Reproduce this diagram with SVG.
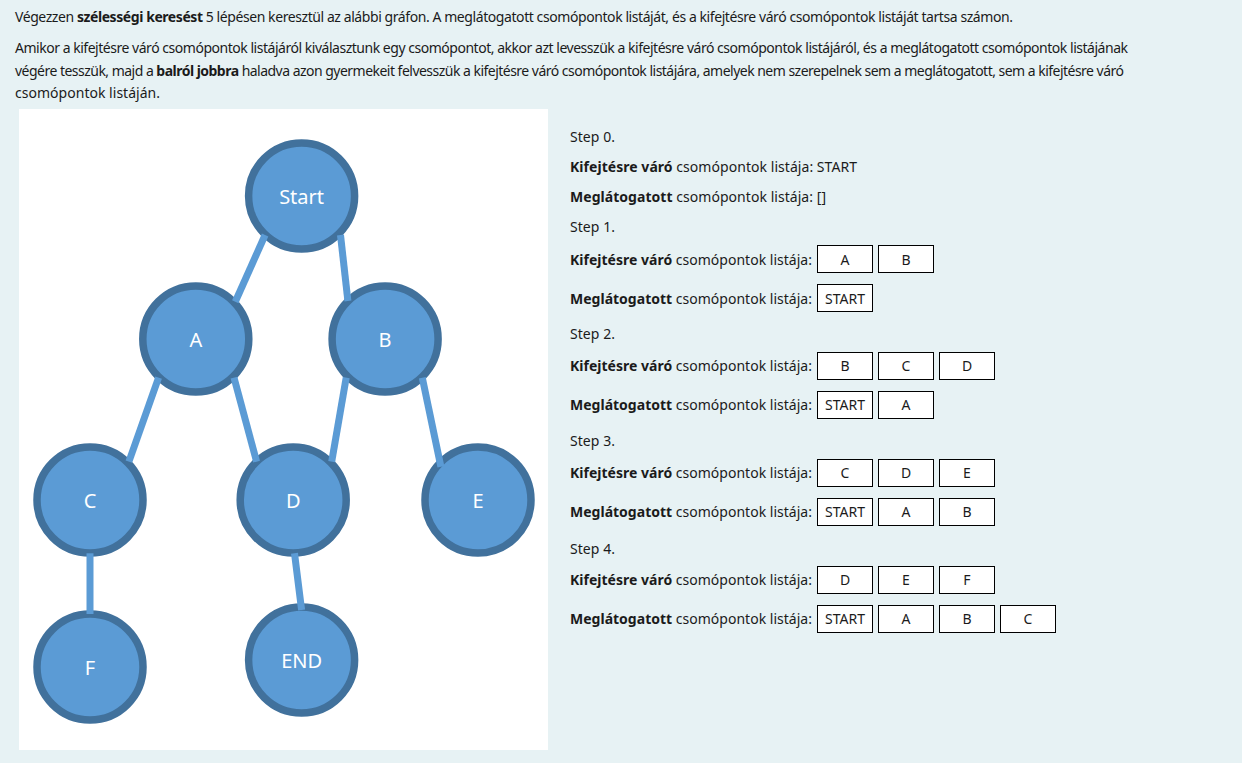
<svg xmlns="http://www.w3.org/2000/svg" width="1242" height="763" viewBox="0 0 1242 763">
<style>
  .t { font-family: "Noto Sans", "Open Sans", sans-serif; font-size: 14px; fill: #1b1b1b; }
  .b { font-weight: bold; }
  .box { fill: #ffffff; stroke: #000000; stroke-width: 1; }
  .bt { font-family: "Noto Sans", "Open Sans", sans-serif; font-size: 14px; fill: #1b1b1b; text-anchor: middle; }
  .node circle { fill: #5b9bd5; stroke: #41719c; stroke-width: 7.5; }
  .node text { font-family: "Noto Sans", "Open Sans", sans-serif; font-size: 20px; fill: #ffffff; text-anchor: middle; }
  .edge { stroke: #5b9bd5; stroke-width: 7; fill: none; }
</style>
<rect x="0" y="0" width="1242" height="763" fill="#e7f2f4"/>

<g id="intro">
  <text class="t" x="15" y="22" textLength="998">Végezzen <tspan class="b">szélességi keresést</tspan> 5 lépésen keresztül az alábbi gráfon. A meglátogatott csomópontok listáját, és a kifejtésre váró csomópontok listáját tartsa számon.</text>
  <text class="t" x="15" y="53" textLength="1113">Amikor a kifejtésre váró csomópontok listájáról kiválasztunk egy csomópontot, akkor azt levesszük a kifejtésre váró csomópontok listájáról, és a meglátogatott csomópontok listájának</text>
  <text class="t" x="15" y="76" textLength="1109">végére tesszük, majd a <tspan class="b">balról jobbra</tspan> haladva azon gyermekeit felvesszük a kifejtésre váró csomópontok listájára, amelyek nem szerepelnek sem a meglátogatott, sem a kifejtésre váró</text>
  <text class="t" x="15" y="98" textLength="145">csomópontok listáján.</text>
</g>

<rect id="panel" x="19" y="109" width="529" height="641" fill="#ffffff"/>

<g id="n-start" class="node"><circle cx="301.6" cy="196" r="53"/><text x="301.6" y="203.5">Start</text></g>
<g id="n-a" class="node"><circle cx="195.8" cy="339" r="53"/><text x="195.8" y="346.5">A</text></g>
<g id="n-b" class="node"><circle cx="385.1" cy="339" r="53"/><text x="385.1" y="346.5">B</text></g>
<g id="n-c" class="node"><circle cx="90" cy="500" r="53"/><text x="90" y="507.5">C</text></g>
<g id="n-d" class="node"><circle cx="293.2" cy="500" r="53"/><text x="293.2" y="507.5">D</text></g>
<g id="n-e" class="node"><circle cx="478" cy="500" r="53"/><text x="478" y="507.5">E</text></g>
<g id="n-f" class="node"><circle cx="90" cy="667" r="53"/><text x="90" y="674.5">F</text></g>
<g id="n-end" class="node"><circle cx="301.6" cy="660" r="53"/><text x="301.6" y="667.5">END</text></g>

<g id="connectors">
  <line class="edge" x1="265.1" y1="235" x2="235.3" y2="301.7"/>
  <line class="edge" x1="340.5" y1="235" x2="347.9" y2="301"/>
  <line class="edge" x1="158.6" y1="377.7" x2="128.9" y2="461.7"/>
  <line class="edge" x1="234" y1="377.7" x2="256.6" y2="461.7"/>
  <line class="edge" x1="346.2" y1="377.7" x2="331.7" y2="461.7"/>
  <line class="edge" x1="422.3" y1="377.7" x2="440.9" y2="466.7"/>
  <line class="edge" x1="90" y1="553.3" x2="90" y2="614"/>
  <line class="edge" x1="294.5" y1="553.3" x2="301.6" y2="610"/>
</g>

<g id="steps">
  <text class="t" x="570" y="142" textLength="45">Step 0.</text>
  <text class="t" x="570" y="172" textLength="287"><tspan class="b">Kifejtésre váró</tspan> csomópontok listája: START</text>
  <text class="t" x="570" y="202" textLength="256"><tspan class="b">Meglátogatott</tspan> csomópontok listája: []</text>

  <text class="t" x="570" y="232" textLength="45">Step 1.</text>
  <text class="t" x="570" y="265" textLength="242"><tspan class="b">Kifejtésre váró</tspan> csomópontok listája:</text>
  <rect class="box" x="817.5" y="245.5" width="55" height="27"/><text class="bt" x="845" y="265">A</text>
  <rect class="box" x="878.5" y="245.5" width="55" height="27"/><text class="bt" x="906" y="265">B</text>
  <text class="t" x="570" y="304" textLength="242"><tspan class="b">Meglátogatott</tspan> csomópontok listája:</text>
  <rect class="box" x="817.5" y="284.5" width="55" height="27"/><text class="bt" x="845" y="304">START</text>

  <text class="t" x="570" y="339" textLength="45">Step 2.</text>
  <text class="t" x="570" y="371" textLength="242"><tspan class="b">Kifejtésre váró</tspan> csomópontok listája:</text>
  <rect class="box" x="817.5" y="352.5" width="55" height="27"/><text class="bt" x="845" y="371">B</text>
  <rect class="box" x="878.5" y="352.5" width="55" height="27"/><text class="bt" x="906" y="371">C</text>
  <rect class="box" x="939.5" y="352.5" width="55" height="27"/><text class="bt" x="967" y="371">D</text>
  <text class="t" x="570" y="410" textLength="242"><tspan class="b">Meglátogatott</tspan> csomópontok listája:</text>
  <rect class="box" x="817.5" y="391.5" width="55" height="27"/><text class="bt" x="845" y="410">START</text>
  <rect class="box" x="878.5" y="391.5" width="55" height="27"/><text class="bt" x="906" y="410">A</text>

  <text class="t" x="570" y="446" textLength="45">Step 3.</text>
  <text class="t" x="570" y="478" textLength="242"><tspan class="b">Kifejtésre váró</tspan> csomópontok listája:</text>
  <rect class="box" x="817.5" y="459.5" width="55" height="27"/><text class="bt" x="845" y="478">C</text>
  <rect class="box" x="878.5" y="459.5" width="55" height="27"/><text class="bt" x="906" y="478">D</text>
  <rect class="box" x="939.5" y="459.5" width="55" height="27"/><text class="bt" x="967" y="478">E</text>
  <text class="t" x="570" y="517" textLength="242"><tspan class="b">Meglátogatott</tspan> csomópontok listája:</text>
  <rect class="box" x="817.5" y="498.5" width="55" height="27"/><text class="bt" x="845" y="517">START</text>
  <rect class="box" x="878.5" y="498.5" width="55" height="27"/><text class="bt" x="906" y="517">A</text>
  <rect class="box" x="939.5" y="498.5" width="55" height="27"/><text class="bt" x="967" y="517">B</text>

  <text class="t" x="570" y="554" textLength="45">Step 4.</text>
  <text class="t" x="570" y="585" textLength="242"><tspan class="b">Kifejtésre váró</tspan> csomópontok listája:</text>
  <rect class="box" x="817.5" y="566.5" width="55" height="27"/><text class="bt" x="845" y="585">D</text>
  <rect class="box" x="878.5" y="566.5" width="55" height="27"/><text class="bt" x="906" y="585">E</text>
  <rect class="box" x="939.5" y="566.5" width="55" height="27"/><text class="bt" x="967" y="585">F</text>
  <text class="t" x="570" y="624" textLength="242"><tspan class="b">Meglátogatott</tspan> csomópontok listája:</text>
  <rect class="box" x="817.5" y="605.5" width="55" height="27"/><text class="bt" x="845" y="624">START</text>
  <rect class="box" x="878.5" y="605.5" width="55" height="27"/><text class="bt" x="906" y="624">A</text>
  <rect class="box" x="939.5" y="605.5" width="55" height="27"/><text class="bt" x="967" y="624">B</text>
  <rect class="box" x="1000.5" y="605.5" width="55" height="27"/><text class="bt" x="1028" y="624">C</text>
</g>
</svg>
